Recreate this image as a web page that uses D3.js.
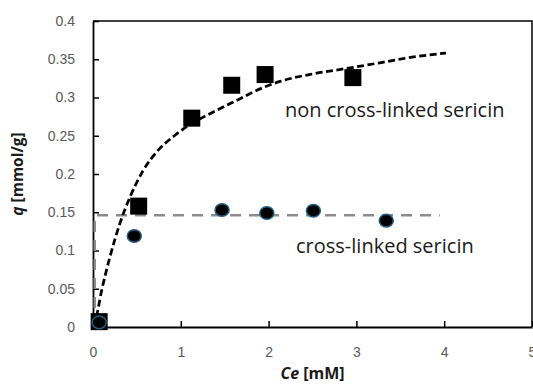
<!DOCTYPE html>
<html>
<head>
<meta charset="utf-8">
<script src="https://cdn.jsdelivr.net/npm/d3@7"></script>
<style>
  body { margin: 0; background: #fff; }
  svg { display: block; }
</style>
</head>
<body>
<div id="chart"></div>
<script>
// --- data ---
const nonCrossC = [0.07, 0.52, 1.125, 1.58, 1.96, 2.96];
const nonCrossQ = [0.007, 0.158, 0.273, 0.316, 0.330, 0.326];

const crossC = [0.07, 0.47, 1.47, 1.98, 2.51, 3.34];
const crossQ = [0.006, 0.119, 0.153, 0.149, 0.152, 0.139];

// fitted curve (non cross-linked)
const fitNonC = [0.01, 0.023, 0.099, 0.194, 0.308, 0.422, 0.574, 0.726, 0.916, 1.068, 1.3, 1.58, 1.96, 2.13, 2.51, 2.89, 3.3, 3.65, 4.02];
const fitNonQ = [0.0, 0.005, 0.048, 0.092, 0.136, 0.170, 0.205, 0.229, 0.249, 0.262, 0.277, 0.293, 0.314, 0.321, 0.331, 0.338, 0.346, 0.353, 0.358];

// fitted curve (cross-linked)
const fitCrossC = [0.02, 0.02, 3.95];
const fitCrossQ = [0.0, 0.146, 0.146];

const xTicks = [0, 1, 2, 3, 4, 5];
const yTicks = [0, 0.05, 0.1, 0.15, 0.2, 0.25, 0.3, 0.35, 0.4];

// --- layout ---
const width = 533, height = 385;
const margin = { top: 21, right: 1, bottom: 58, left: 93 };

const svg = d3.select("#chart").append("svg")
    .attr("width", width)
    .attr("height", height);

const x = d3.scaleLinear().domain([0, 5]).range([margin.left, width - margin.right]);
const y = d3.scaleLinear().domain([0, 0.4]).range([height - margin.bottom, margin.top]);

// frame (top & right)
svg.append("path")
    .attr("d", `M${x(0)},${y(0.4)}H${x(5)}V${y(0)}`)
    .attr("fill", "none")
    .attr("stroke", "#000")
    .attr("stroke-width", 1.5);

const tickFont = "'Liberation Sans', Arial, sans-serif";

const yAxis = svg.append("g")
    .attr("transform", `translate(${x(0)},0)`)
    .call(d3.axisLeft(y).tickValues(yTicks).tickSizeInner(-6).tickSizeOuter(0).tickPadding(18)
        .tickFormat(d => +d.toFixed(2)));

const xAxis = svg.append("g")
    .attr("transform", `translate(0,${y(0)})`)
    .call(d3.axisBottom(x).tickValues(xTicks).tickSizeInner(-6).tickSizeOuter(0).tickPadding(20)
        .tickFormat(d3.format("d")));

[xAxis, yAxis].forEach(g => {
    g.select(".domain").attr("stroke", "#000").attr("stroke-width", 1.8);
    g.selectAll(".tick line").attr("stroke", "#000").attr("stroke-width", 1.5);
    g.selectAll(".tick text")
        .attr("fill", "#595959")
        .style("font-family", tickFont)
        .style("font-size", "14px");
});

// --- fitted lines ---
const line = d3.line().x(d => x(d[0])).y(d => y(d[1]));

svg.append("path")
    .datum(d3.zip(fitCrossC, fitCrossQ))
    .attr("d", line)
    .attr("fill", "none")
    .attr("stroke", "#8c8c8c")
    .attr("stroke-width", 2.5)
    .attr("stroke-dasharray", "11,8");

svg.append("path")
    .datum(d3.zip(fitNonC, fitNonQ))
    .attr("d", line.curve(d3.curveMonotoneX))
    .attr("fill", "none")
    .attr("stroke", "#000")
    .attr("stroke-width", 2.75)
    .attr("stroke-dasharray", "7,3.5");

// --- markers ---
const sq = 17;
svg.append("g").selectAll("rect")
    .data(d3.zip(nonCrossC, nonCrossQ))
    .join("rect")
    .attr("x", d => x(d[0]) - sq / 2)
    .attr("y", d => y(d[1]) - sq / 2)
    .attr("width", sq)
    .attr("height", sq)
    .attr("fill", "#000");

svg.append("g").selectAll("ellipse")
    .data(d3.zip(crossC, crossQ))
    .join("ellipse")
    .attr("cx", d => x(d[0]))
    .attr("cy", d => y(d[1]))
    .attr("rx", 7)
    .attr("ry", 6.3)
    .attr("fill", "#000")
    .attr("stroke", "#1f5f80")
    .attr("stroke-width", 1.5);

// --- annotations ---
const labelFont = "'Open Sans', Lato, sans-serif";

svg.append("text")
    .attr("x", 285).attr("y", 117)
    .style("font-family", labelFont)
    .style("font-size", "20px")
    .attr("fill", "#1a1a1a")
    .text("non cross-linked sericin");

svg.append("text")
    .attr("x", 296).attr("y", 253)
    .style("font-family", labelFont)
    .style("font-size", "20px")
    .attr("fill", "#1a1a1a")
    .text("cross-linked sericin");

// --- axis titles ---
const xTitle = svg.append("text")
    .attr("x", (x(0) + x(5)) / 2).attr("y", 379)
    .attr("text-anchor", "middle")
    .style("font-family", labelFont)
    .style("font-size", "16px")
    .style("font-weight", "bold")
    .attr("fill", "#1a1a1a");
xTitle.append("tspan").style("font-style", "italic").text("Ce");
xTitle.append("tspan").text(" [mM]");

const yTitle = svg.append("text")
    .attr("transform", `translate(23,${(y(0) + y(0.4)) / 2}) rotate(-90)`)
    .attr("text-anchor", "middle")
    .style("font-family", labelFont)
    .style("font-size", "15.5px")
    .style("font-weight", "bold")
    .attr("fill", "#1a1a1a");
yTitle.append("tspan").style("font-style", "italic").text("q");
yTitle.append("tspan").text(" [mmol/g]");
</script>
</body>
</html>
